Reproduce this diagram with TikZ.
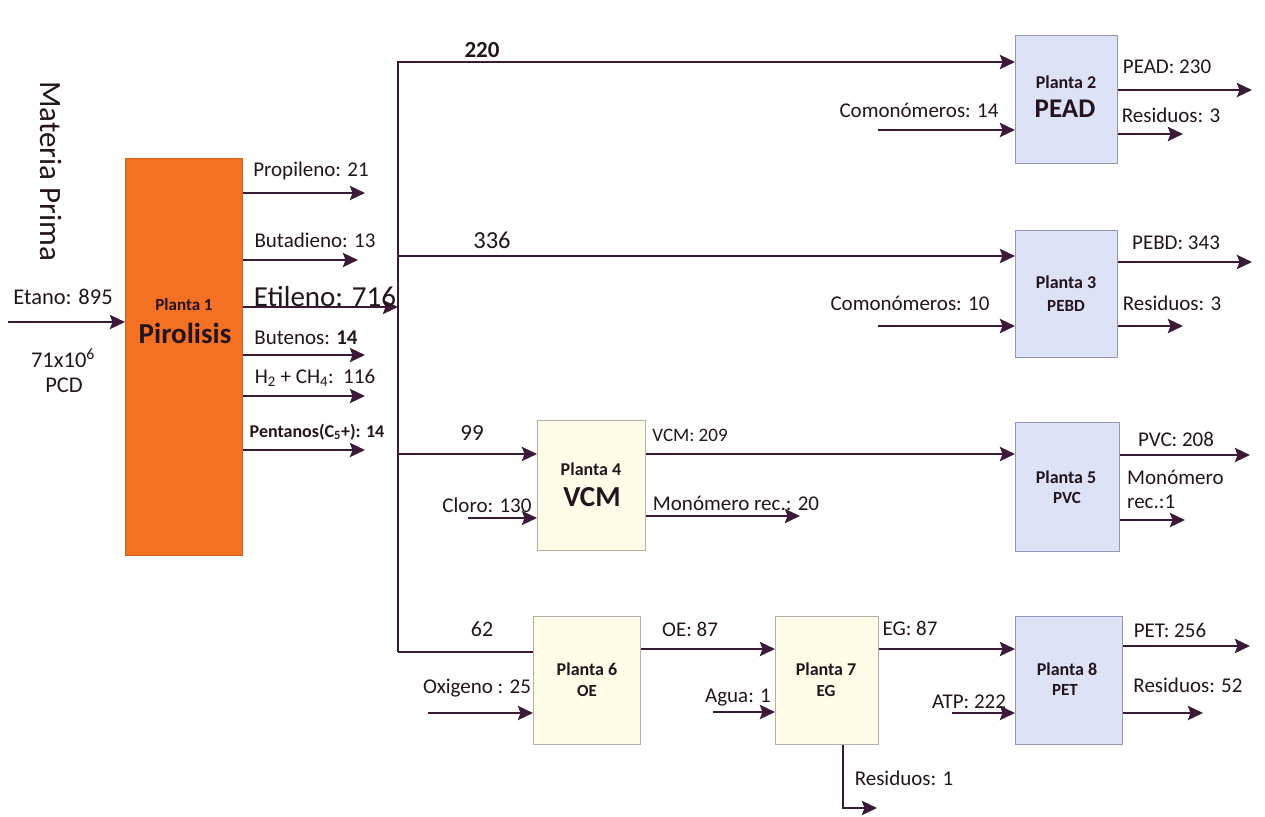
\documentclass[tikz,border=0pt]{standalone}
\usepackage{fontspec}
\setmainfont{Carlito}
\usetikzlibrary{arrows.meta}
\definecolor{linec}{RGB}{58,26,54}
\definecolor{txt}{RGB}{35,20,30}
\definecolor{orangebox}{RGB}{244,112,34}
\definecolor{bluefill}{RGB}{222,226,246}
\definecolor{bluedraw}{RGB}{150,150,185}
\definecolor{creamfill}{RGB}{255,253,232}
\definecolor{creamdraw}{RGB}{185,175,170}
\newcommand{\fsz}[1]{\fontsize{#1}{#1}\selectfont}
\begin{document}
\begin{tikzpicture}[x=1pt,y=-1pt,
  flow/.style={draw=linec, line width=2.8pt, -{Stealth[length=15pt,width=14pt,inset=2.5pt]}},
  plainline/.style={draw=linec, line width=2.8pt},
  lbl/.style={text=txt, inner sep=0pt, font=\fsz{21}},
  plant/.style={line width=1pt, inner sep=0pt, anchor=north west},
  orangeplant/.style={plant, fill=orangebox, draw=orangebox!85!black},
  blueplant/.style={plant, fill=bluefill, draw=bluedraw},
  creamplant/.style={plant, fill=creamfill, draw=creamdraw},
  ptitle/.style={text=txt, inner sep=0pt, font=\bfseries\fsz{18}},
]
\useasboundingbox (0,0) rectangle (1265,816);

% ---------- plants ----------
\node[orangeplant, minimum width=117pt, minimum height=397pt] (p1) at (125,158) {};
\node[blueplant, minimum width=102pt, minimum height=128pt] (p2) at (1015,35) {};
\node[blueplant, minimum width=102pt, minimum height=127pt] (p3) at (1015,230) {};
\node[creamplant, minimum width=108pt, minimum height=130pt] (p4) at (537,420) {};
\node[blueplant, minimum width=104pt, minimum height=129pt] (p5) at (1015,422) {};
\node[creamplant, minimum width=107pt, minimum height=128pt] (p6) at (533,616) {};
\node[creamplant, minimum width=103pt, minimum height=128pt] (p7) at (775,616) {};
\node[blueplant, minimum width=107pt, minimum height=128pt] (p8) at (1015,616) {};

% plant texts
\node[ptitle, font=\bfseries\fsz{17}] (t1a) at (184,305) {Planta 1};
\node[ptitle, font=\bfseries\fsz{29}] (t1b) at (185,333) {Pirolisis};
\node[ptitle] (t2a) at (1066,82) {Planta 2};
\node[ptitle, font=\bfseries\fsz{27}] (t2b) at (1065,109) {PEAD};
\node[ptitle] (t3a) at (1066,282) {Planta 3};
\node[ptitle, font=\bfseries\fsz{17}] (t3b) at (1066,306) {PEBD};
\node[ptitle] (t4a) at (591,469) {Planta 4};
\node[ptitle, font=\bfseries\fsz{29}] (t4b) at (592,497) {VCM};
\node[ptitle] (t5a) at (1066,477) {Planta 5};
\node[ptitle, font=\bfseries\fsz{17}] (t5b) at (1067,498) {PVC};
\node[ptitle] (t6a) at (587,669) {Planta 6};
\node[ptitle, font=\bfseries\fsz{17}] (t6b) at (587,691) {OE};
\node[ptitle] (t7a) at (826,669) {Planta 7};
\node[ptitle, font=\bfseries\fsz{17}] (t7b) at (826,691) {EG};
\node[ptitle] (t8a) at (1067,669) {Planta 8};
\node[ptitle, font=\bfseries\fsz{17}] (t8b) at (1065,690) {PET};

% ---------- free-end coordinates ----------
\coordinate (etanoS) at (8,322);
\coordinate (propE) at (365,193);
\coordinate (butaE) at (358,260);
\coordinate (etiE) at (398,307);
\coordinate (buteE) at (365,355);
\coordinate (hE) at (365,396);
\coordinate (pentE) at (365,450);
\coordinate (bt) at (398,62);
\coordinate (bb) at (398,652);
\coordinate (b3) at (398,256);
\coordinate (b4) at (398,454);
\coordinate (com14) at (878,130);
\coordinate (pead) at (1252,90);
\coordinate (res2) at (1183,134);
\coordinate (com10) at (878,326);
\coordinate (pebd) at (1252,262);
\coordinate (res3) at (1183,326);
\coordinate (cloro) at (468,518);
\coordinate (vcm) at (645,454);
\coordinate (monrec) at (800,516);
\coordinate (pvc) at (1250,455);
\coordinate (monrec5) at (1185,520);
\coordinate (oxi) at (428,713);
\coordinate (oe) at (640,649);
\coordinate (agua) at (713,712);
\coordinate (eg) at (877,649);
\coordinate (atp) at (952,713);
\coordinate (pet) at (1250,646);
\coordinate (res8) at (1203,713);
\coordinate (res7c) at (843,808);
\coordinate (res7) at (877,808);

% ---------- connectors ----------
\draw[flow] (etanoS) -- (etanoS -| p1.west);
\draw[flow] (propE -| p1.east) -- (propE);
\draw[flow] (butaE -| p1.east) -- (butaE);
\draw[flow] (etiE -| p1.east) -- (etiE);
\draw[flow] (buteE -| p1.east) -- (buteE);
\draw[flow] (hE -| p1.east) -- (hE);
\draw[flow] (pentE -| p1.east) -- (pentE);

\draw[flow] (bb) -- (bt) -- (bt -| p2.west);
\draw[plainline] (bb) -- (bb -| p6.west);
\draw[flow] (b3) -- (b3 -| p3.west);
\draw[flow] (b4) -- (b4 -| p4.west);

\draw[flow] (com14) -- (com14 -| p2.west);
\draw[flow] (pead -| p2.east) -- (pead);
\draw[flow] (res2 -| p2.east) -- (res2);

\draw[flow] (com10) -- (com10 -| p3.west);
\draw[flow] (pebd -| p3.east) -- (pebd);
\draw[flow] (res3 -| p3.east) -- (res3);

\draw[flow] (cloro) -- (cloro -| p4.west);
\draw[flow] (vcm -| p4.east) -- (vcm -| p5.west);
\draw[flow] (monrec -| p4.east) -- (monrec);

\draw[flow] (pvc -| p5.east) -- (pvc);
\draw[flow] (monrec5 -| p5.east) -- (monrec5);

\draw[flow] (oxi) -- (oxi -| p6.west);
\draw[flow] (oe -| p6.east) -- (oe -| p7.west);
\draw[flow] (agua) -- (agua -| p7.west);
\draw[flow] (eg -| p7.east) -- (eg -| p8.west);
\draw[flow] (res7c |- p7.south) -- (res7c) -- (res7);
\draw[flow] (atp) -- (atp -| p8.west);
\draw[flow] (pet -| p8.east) -- (pet);
\draw[flow] (res8 -| p8.east) -- (res8);

% ---------- labels ----------
\node[lbl, font=\fsz{31}, rotate=-90] (mp) at (51,171) {Materia Prima};
\node[lbl, font=\fsz{22.5}] (l1) at (63,297) {Etano: 895};
\node[lbl, font=\fsz{22.5}] (l2) at (63,358) {71x10\textsuperscript{6}};
\node[lbl, font=\fsz{22.5}] (l3) at (64,385) {PCD};
\node[lbl] (l4) at (311,171) {Propileno: 21};
\node[lbl] (l5) at (315,240) {Butadieno: 13};
\node[lbl, font=\fsz{29}] (l6) at (325,297) {Etileno: 716};
\node[lbl] (l7) at (306,338) {Butenos: \textbf{14}};
\node[lbl] (l8) at (315,378) {H\textsubscript{2} + CH\textsubscript{4}:\ \ 116};
\node[lbl, font=\bfseries\fsz{18}] (l9) at (317,432) {Pentanos(C\textsubscript{5}+): 14};
\node[lbl, font=\bfseries\fsz{23}] (l10) at (482,50) {220};
\node[lbl, font=\fsz{24.5}] (l11) at (492,240) {336};
\node[lbl, font=\fsz{23}] (l12) at (472,433) {99};
\node[lbl, font=\fsz{22}] (l13) at (482,629) {62};
\node[lbl] (l14) at (919,110) {Comonómeros: 14};
\node[lbl] (l15) at (1167,67) {PEAD: 230};
\node[lbl] (l16) at (1171,115) {Residuos: 3};
\node[lbl] (l17) at (910,303) {Comonómeros: 10};
\node[lbl] (l18) at (1176,243) {PEBD: 343};
\node[lbl] (l19) at (1172,303) {Residuos: 3};
\node[lbl] (l20) at (487,505) {Cloro: 130};
\node[lbl, font=\fsz{19}] (l21) at (690,435) {VCM: 209};
\node[lbl] (l22) at (736,503) {Monómero rec.: 20};
\node[lbl] (l23) at (1176,439) {PVC: 208};
\node[lbl, align=left, anchor=west] (l24) at (1127,477) {Monómero};
\node[lbl, align=left, anchor=west] (l24b) at (1127,502) {rec.:1};
\node[lbl] (l25) at (477,688) {Oxigeno : 25};
\node[lbl] (l26) at (690,629) {OE: 87};
\node[lbl] (l27) at (738,698) {Agua: 1};
\node[lbl] (l28) at (910,628) {EG: 87};
\node[lbl] (l29) at (904,778) {Residuos: 1};
\node[lbl] (l30) at (969,702) {ATP: 222};
\node[lbl] (l31) at (1170,630) {PET: 256};
\node[lbl] (l32) at (1188,685) {Residuos: 52};
\end{tikzpicture}
\end{document}
